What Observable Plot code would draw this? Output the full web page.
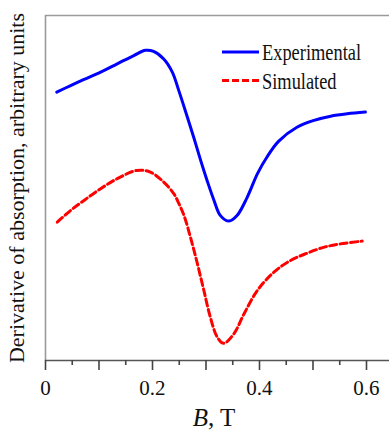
<!DOCTYPE html>
<html>
<head>
<meta charset="utf-8">
<script src="https://cdn.jsdelivr.net/npm/d3@7"></script>
<script src="https://cdn.jsdelivr.net/npm/@observablehq/plot@0.6"></script>
<style>
  html, body { margin: 0; padding: 0; background: #fff; }
  #chart { width: 389px; height: 430px; }
</style>
</head>
<body>
<div id="chart"></div>
<script>
// ---- data (y in arbitrary units) ----
const seriesNames = ["Experimental", "Simulated"];
const seriesColors = ["#0000ff", "#ff0000"];

const expB = [0.021, 0.047, 0.071, 0.103, 0.134, 0.165, 0.187, 0.202, 0.221, 0.237, 0.249, 0.263, 0.277, 0.290, 0.302, 0.315, 0.327, 0.343, 0.358, 0.377, 0.396, 0.414, 0.436, 0.470, 0.502, 0.533, 0.564, 0.598];
const expY = [77.8, 79.7, 81.4, 83.6, 86.0, 88.4, 89.9, 89.6, 87.4, 83.6, 78.3, 71.6, 64.7, 58.0, 52.2, 46.4, 42.0, 40.4, 42.0, 47.3, 54.1, 59.0, 63.6, 67.6, 69.6, 70.8, 71.5, 72.0];

const simB = [0.022, 0.047, 0.072, 0.103, 0.134, 0.171, 0.196, 0.221, 0.240, 0.249, 0.259, 0.271, 0.284, 0.296, 0.308, 0.321, 0.333, 0.352, 0.371, 0.396, 0.427, 0.458, 0.489, 0.520, 0.551, 0.592];
const simY = [40.1, 43.5, 46.4, 49.8, 52.7, 55.1, 54.6, 51.7, 48.3, 45.6, 42.0, 35.7, 28.0, 20.3, 12.6, 6.8, 5.0, 7.7, 13.5, 20.3, 25.6, 29.0, 31.1, 32.8, 33.8, 34.6];

const xDomain = [0, 0.643];
const yDomain = [0, 100];
const majorTicks = [0, 0.1, 0.2, 0.3, 0.4, 0.5, 0.6];
const minorTicks = [0.05, 0.15, 0.25, 0.35, 0.45, 0.55];
const labelTicks = [0, 0.2, 0.4, 0.6];
const yLabel = "Derivative of absorption, arbitrary units";

const expData = expB.map((b, i) => ({B: b, v: expY[i]}));
const simData = simB.map((b, i) => ({B: b, v: simY[i]}));

const plot = Plot.plot({
  width: 389,
  height: 430,
  marginLeft: 45,
  marginRight: 0,
  marginTop: 15,
  marginBottom: 70,
  style: {fontFamily: "'Liberation Serif', 'Times New Roman', serif", fontSize: "21px", background: "#fff", color: "#000"},
  x: {domain: xDomain},
  y: {domain: yDomain},
  marks: [
    Plot.ruleY([yDomain[1]], {stroke: "#9a9a9a", strokeWidth: 1.6}),
    Plot.ruleX([0], {stroke: "#9a9a9a", strokeWidth: 1.6}),
    Plot.ruleY([yDomain[0]], {stroke: "#555", strokeWidth: 1.6}),
    Plot.axisY({ticks: [], label: null}),
    Plot.axisX(majorTicks, {tickSize: 10, text: null, stroke: "#444", strokeWidth: 1.6, label: null}),
    Plot.axisX(minorTicks, {tickSize: 5, text: null, stroke: "#444", strokeWidth: 1.6, label: null}),
    Plot.axisX(labelTicks, {tickSize: 0, tickPadding: 20, tickFormat: d => String(d), fill: "#111", label: null}),
    Plot.text([yLabel], {frameAnchor: "left", rotate: -90, dx: -22, lineAnchor: "bottom", textAnchor: "middle", fontSize: 22, fill: "#111"}),
    Plot.line(expData, {x: "B", y: "v", stroke: seriesColors[0], strokeWidth: 3, curve: "catmull-rom"}),
    Plot.line(simData, {x: "B", y: "v", stroke: seriesColors[1], strokeWidth: 3, strokeDasharray: "7,3.5", curve: "catmull-rom"})
  ]
});

document.getElementById("chart").appendChild(plot);

const svg = d3.select(plot);

// x-axis title with italic B
const xt = svg.append("text")
  .attr("x", 214).attr("y", 426)
  .attr("text-anchor", "middle")
  .attr("font-family", "'Liberation Serif', 'Times New Roman', serif")
  .attr("font-size", 25)
  .attr("fill", "#111");
xt.append("tspan").attr("font-style", "italic").text("B");
xt.append("tspan").text(", T");

// legend
const leg = svg.append("g");
const dashes = [null, "7,3"];
seriesNames.forEach((name, i) => {
  const y = 52 + i * 28.5;
  leg.append("line")
    .attr("x1", 222).attr("x2", 259).attr("y1", y).attr("y2", y)
    .attr("stroke", seriesColors[i]).attr("stroke-width", 3)
    .attr("stroke-dasharray", dashes[i]);
  leg.append("text")
    .attr("transform", `translate(262,${y + 8}) scale(0.8,1)`)
    .attr("text-anchor", "start")
    .attr("font-family", "'Liberation Serif', 'Times New Roman', serif")
    .attr("font-size", 23)
    .attr("fill", "#111")
    .text(name);
});
</script>
</body>
</html>
